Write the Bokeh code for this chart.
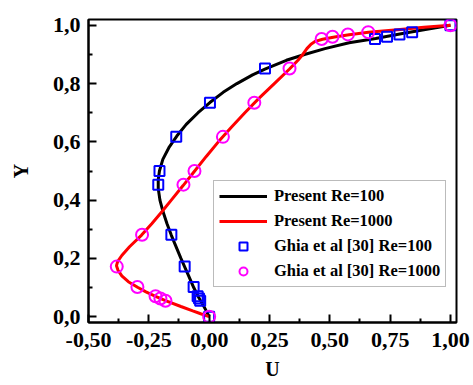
from bokeh.plotting import figure
from bokeh.models import Range1d, Legend, LegendItem, FixedTicker
from bokeh.embed import file_html
from bokeh.resources import INLINE

# ---- data ----
x_ticks = [-0.5, -0.25, 0.0, 0.25, 0.5, 0.75, 1.0]
x_tick_labels = ["-0,50", "-0,25", "0,00", "0,25", "0,50", "0,75", "1,00"]
x_minor = [-0.375, -0.125, 0.125, 0.375, 0.625, 0.875]
y_ticks = [0.0, 0.2, 0.4, 0.6, 0.8, 1.0]
y_tick_labels = ["0,0", "0,2", "0,4", "0,6", "0,8", "1,0"]
y_minor = [0.1, 0.3, 0.5, 0.7, 0.9]

# Present Re=100 (y, u)
re100_y = [0.0, 0.02, 0.04, 0.055, 0.07, 0.10, 0.14, 0.17, 0.20, 0.25, 0.28, 0.32, 0.36,
           0.40, 0.44, 0.47, 0.50, 0.54, 0.58, 0.62, 0.66, 0.70, 0.735, 0.77, 0.80, 0.83,
           0.85, 0.88, 0.90, 0.92, 0.94, 0.955, 0.97, 0.985, 1.0]
re100_u = [0.0, -0.012, -0.025, -0.036, -0.046, -0.064, -0.085, -0.101, -0.117, -0.142,
           -0.157, -0.175, -0.191, -0.204, -0.211, -0.211, -0.206, -0.192, -0.167, -0.134,
           -0.095, -0.046, 0.003, 0.058, 0.115, 0.18, 0.231, 0.32, 0.395, 0.48, 0.58,
           0.69, 0.79, 0.89, 1.0]

# Present Re=1000 (y, u)
re1000_y = [0.0, 0.01, 0.02, 0.035, 0.055, 0.07, 0.085, 0.10, 0.12, 0.14, 0.16, 0.175,
            0.19, 0.21, 0.24, 0.28, 0.32, 0.36, 0.40, 0.45, 0.50, 0.55, 0.60, 0.65, 0.70,
            0.75, 0.80, 0.85, 0.88, 0.90, 0.92, 0.935, 0.945, 0.952, 0.96, 0.968, 0.976,
            0.985, 0.993, 1.0]
re1000_u = [0.0, -0.035, -0.068, -0.117, -0.181, -0.222, -0.262, -0.295, -0.335, -0.362,
            -0.378, -0.384, -0.379, -0.362, -0.33, -0.28, -0.237, -0.196, -0.157, -0.108,
            -0.060, -0.012, 0.038, 0.092, 0.148, 0.207, 0.27, 0.333, 0.368, 0.388, 0.405,
            0.422, 0.44, 0.47, 0.52, 0.58, 0.66, 0.78, 0.89, 1.0]

# Ghia et al [30]
ghia_y = [1.0, 0.9766, 0.9688, 0.9609, 0.9531, 0.8516, 0.7344, 0.6172, 0.5, 0.4531,
          0.2813, 0.1719, 0.1016, 0.0703, 0.0625, 0.0547, 0.0]
ghia100_u = [1.0, 0.84123, 0.78871, 0.73722, 0.68717, 0.23151, 0.00332, -0.13641, -0.20581,
             -0.2109, -0.15662, -0.1015, -0.06434, -0.04775, -0.04192, -0.03717, 0.0]
ghia1000_u = [1.0, 0.65928, 0.57492, 0.51117, 0.46604, 0.33304, 0.18719, 0.05702, -0.0608,
              -0.10648, -0.27805, -0.38289, -0.2973, -0.2222, -0.20196, -0.18109, 0.0]

FONT = "Liberation Serif"

p = figure(width=473, height=385, output_backend="svg", toolbar_location=None,
           x_range=Range1d(-0.5, 1.025), y_range=Range1d(-0.02, 1.02),
           min_border_left=88, min_border_right=17, min_border_top=19, min_border_bottom=63,
           x_axis_label="U", y_axis_label="Y")
p.grid.visible = False
p.outline_line_color = "black"
p.outline_line_width = 2
p.background_fill_color = "white"
p.border_fill_color = "white"

xt = FixedTicker(ticks=x_ticks, minor_ticks=x_minor)
yt = FixedTicker(ticks=y_ticks, minor_ticks=y_minor)

for ax, ticker, labels in ((p.xaxis[0], xt, x_tick_labels), (p.yaxis[0], yt, y_tick_labels)):
    ax.ticker = ticker
    ax.major_label_overrides = {t: l for t, l in zip(ticker.ticks, labels)}
    ax.axis_line_width = 2
    ax.major_tick_line_width = 2
    ax.minor_tick_line_width = 2
    ax.major_tick_in = 8
    ax.major_tick_out = 0
    ax.minor_tick_in = 4
    ax.minor_tick_out = 0
    ax.major_label_text_font = FONT
    ax.major_label_text_font_style = "bold"
    ax.major_label_text_font_size = "22px"
    ax.major_label_text_color = "black"
    ax.axis_label_text_font = FONT
    ax.axis_label_text_font_style = "bold"
    ax.axis_label_text_font_size = "20px"
    ax.axis_label_text_color = "black"

p.xaxis[0].major_label_standoff = 10
p.xaxis[0].axis_label_standoff = 8
p.yaxis[0].major_label_standoff = 8
p.yaxis[0].axis_label_standoff = 18

l100 = p.line(re100_u, re100_y, line_color="black", line_width=3)
l1000 = p.line(re1000_u, re1000_y, line_color="#ff0000", line_width=3)
s100 = p.scatter(ghia100_u, ghia_y, marker="square", size=10, fill_color=None,
                 line_color="#0000ff", line_width=2)
s1000 = p.scatter(ghia1000_u, ghia_y, marker="circle", size=12, fill_color=None,
                  line_color="#ff00ff", line_width=2)

legend = Legend(items=[
    LegendItem(label="Present Re=100", renderers=[l100]),
    LegendItem(label="Present Re=1000", renderers=[l1000]),
    LegendItem(label="Ghia et al [30] Re=100", renderers=[s100]),
    LegendItem(label="Ghia et al [30] Re=1000", renderers=[s1000]),
], location=(125, 35))
legend.label_text_font = FONT
legend.label_text_font_style = "bold"
legend.label_text_font_size = "16.5px"
legend.label_text_color = "black"
legend.glyph_width = 48
legend.glyph_height = 20
legend.label_height = 20
legend.label_width = 166
legend.label_standoff = 7
legend.spacing = 5
legend.padding = 5
legend.margin = 0
legend.border_line_color = "#777777"
legend.border_line_width = 1.5
legend.background_fill_alpha = 1
p.add_layout(legend)

open("out.html", "w").write(file_html(p, INLINE))
